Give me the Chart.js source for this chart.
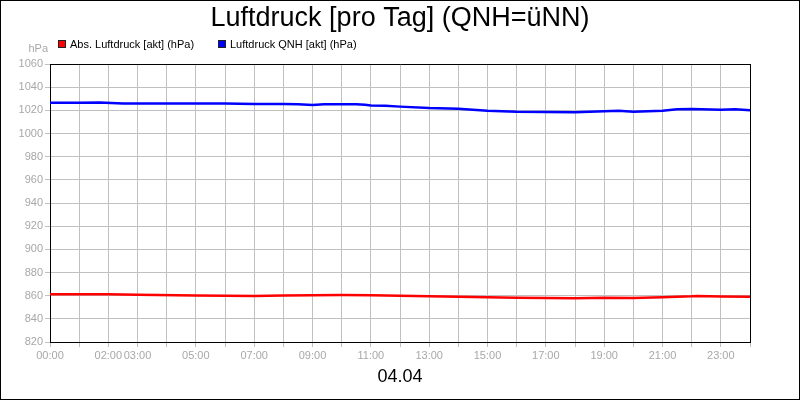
<!DOCTYPE html>
<html>
<head>
<meta charset="utf-8">
<script src="https://cdn.jsdelivr.net/npm/chart.js@4/dist/chart.umd.min.js"></script>
<style>
  html, body { margin: 0; padding: 0; background: #fff; }
  #wrap { width: 800px; height: 400px; position: relative; }
</style>
</head>
<body>
<div id="wrap"><canvas id="c" width="800" height="400"></canvas></div>
<script>
const titleText = 'Luftdruck [pro Tag] (QNH=üNN)';
const dateLabel = '04.04';
const unitLabel = 'hPa';
const seriesLabels = ['Abs. Luftdruck [akt] (hPa)', 'Luftdruck QNH [akt] (hPa)'];
const seriesColors = ['#ff0000', '#0000ff'];

// hours of day (x) and values (hPa)
const absHours  = [0, 2, 3, 5, 7, 8, 10, 11, 12, 14, 16, 18, 19, 20, 21, 22, 22.2, 23, 24];
const absValues = [861.2, 861.2, 860.7, 860.2, 859.8, 860.2, 860.6, 860.3, 859.9, 859.0, 858.1, 857.8, 858.3, 858.0, 858.6, 859.4, 859.8, 859.2, 859.0];

const qnhHours  = [0, 1, 1.7, 2.5, 4, 5, 6, 7, 8, 8.5, 9, 9.4, 10.5, 10.8, 11, 11.5, 12, 13, 14, 14.5, 15, 16, 17, 18, 19, 19.5, 20, 21, 21.5, 22, 23, 23.5, 24];
const qnhValues = [1026.5, 1026.5, 1026.8, 1026.0, 1026.0, 1025.8, 1025.8, 1025.5, 1025.4, 1025.3, 1024.7, 1025.3, 1025.3, 1024.9, 1024.2, 1024.0, 1023.2, 1022.0, 1021.4, 1020.5, 1019.7, 1018.7, 1018.6, 1018.4, 1019.2, 1019.6, 1018.7, 1019.6, 1020.9, 1021.2, 1020.5, 1021.0, 1020.0];

// x tick labels shown (hour -> label)
const xTickHours  = [0, 2, 3, 5, 7, 9, 11, 13, 15, 17, 19, 21, 23];
const xTickLabels = ['00:00', '02:00', '03:00', '05:00', '07:00', '09:00', '11:00', '13:00', '15:00', '17:00', '19:00', '21:00', '23:00'];

const yMin = 820, yMax = 1060, yStep = 20;

const FONT = "'Liberation Sans', Arial, Helvetica, sans-serif";
const GREY_TEXT = '#a8a8a8';
const GRID = '#c0c0c0';

function toPoints(xs, ys) { return xs.map((x, i) => ({ x: x, y: ys[i] })); }

const decor = {
  id: 'decor',
  afterDraw(chart) {
    const ctx = chart.ctx;
    const a = chart.chartArea;
    ctx.save();
    ctx.strokeStyle = '#000';
    ctx.lineWidth = 1;
    // top edge of plot frame
    ctx.beginPath();
    ctx.moveTo(Math.round(a.left), Math.round(a.top) + 0.5);
    ctx.lineTo(Math.round(a.right) + 1, Math.round(a.top) + 0.5);
    ctx.stroke();
    // outer frame
    ctx.strokeRect(0.5, 0.5, chart.width - 1, chart.height - 1);
    // legend
    ctx.font = '11px ' + FONT;
    ctx.textBaseline = 'middle';
    ctx.textAlign = 'left';
    const legendX = [58, 218];
    chart.data.datasets.forEach((ds, i) => {
      const x = legendX[i];
      ctx.fillStyle = ds.borderColor;
      ctx.fillRect(x, 40, 8, 8);
      ctx.strokeStyle = '#222';
      ctx.strokeRect(x + 0.5, 40.5, 7, 7);
      ctx.fillStyle = '#000';
      ctx.fillText(ds.label, x + 12, 44.5);
    });
    // unit
    ctx.fillStyle = GREY_TEXT;
    ctx.textAlign = 'right';
    ctx.fillText(unitLabel, 48, 48.5);
    ctx.restore();
  }
};

new Chart(document.getElementById('c'), {
  type: 'line',
  data: {
    datasets: [
      { label: seriesLabels[0], data: toPoints(absHours, absValues), borderColor: seriesColors[0], backgroundColor: seriesColors[0], borderWidth: 2.5, pointRadius: 0, tension: 0, fill: false },
      { label: seriesLabels[1], data: toPoints(qnhHours, qnhValues), borderColor: seriesColors[1], backgroundColor: seriesColors[1], borderWidth: 2.5, pointRadius: 0, tension: 0, fill: false }
    ]
  },
  options: {
    responsive: false,
    animation: false,
    devicePixelRatio: 1,
    layout: { padding: 0 },
    plugins: {
      legend: { display: false },
      tooltip: { enabled: false },
      title: {
        display: true,
        text: titleText,
        color: '#000',
        font: { family: FONT, size: 27, weight: 'normal', lineHeight: 1.2 },
        padding: { top: 2, bottom: 29.6 }
      }
    },
    scales: {
      x: {
        type: 'linear',
        min: 0, max: 24,
        afterFit(scale) { scale.height = 58; },
        grid: { color: GRID, tickLength: 5, drawTicks: true },
        border: { color: '#000', width: 1 },
        ticks: {
          stepSize: 1,
          autoSkip: false,
          maxRotation: 0,
          padding: 2,
          color: GREY_TEXT,
          font: { family: FONT, size: 11 },
          callback(v) { const i = xTickHours.indexOf(v); return i >= 0 ? xTickLabels[i] : ''; }
        },
        title: {
          display: true,
          text: dateLabel,
          color: '#000',
          font: { family: FONT, size: 18, lineHeight: 1.2 },
          padding: { top: 0, bottom: 12 }
        }
      },
      y: {
        min: yMin, max: yMax,
        afterFit(scale) { scale.width = 50; },
        grid: { color: GRID, tickLength: 5, drawTicks: true },
        border: { color: '#000', width: 1 },
        ticks: {
          stepSize: yStep,
          padding: 2,
          color: GREY_TEXT,
          font: { family: FONT, size: 11 },
          callback(v) { return String(v); }
        }
      },
      yRight: {
        position: 'right',
        min: yMin, max: yMax,
        afterFit(scale) { scale.width = 50; },
        grid: { display: false, drawOnChartArea: false },
        border: { color: '#000', width: 1 },
        ticks: { display: false }
      }
    }
  },
  plugins: [decor]
});
</script>
</body>
</html>
